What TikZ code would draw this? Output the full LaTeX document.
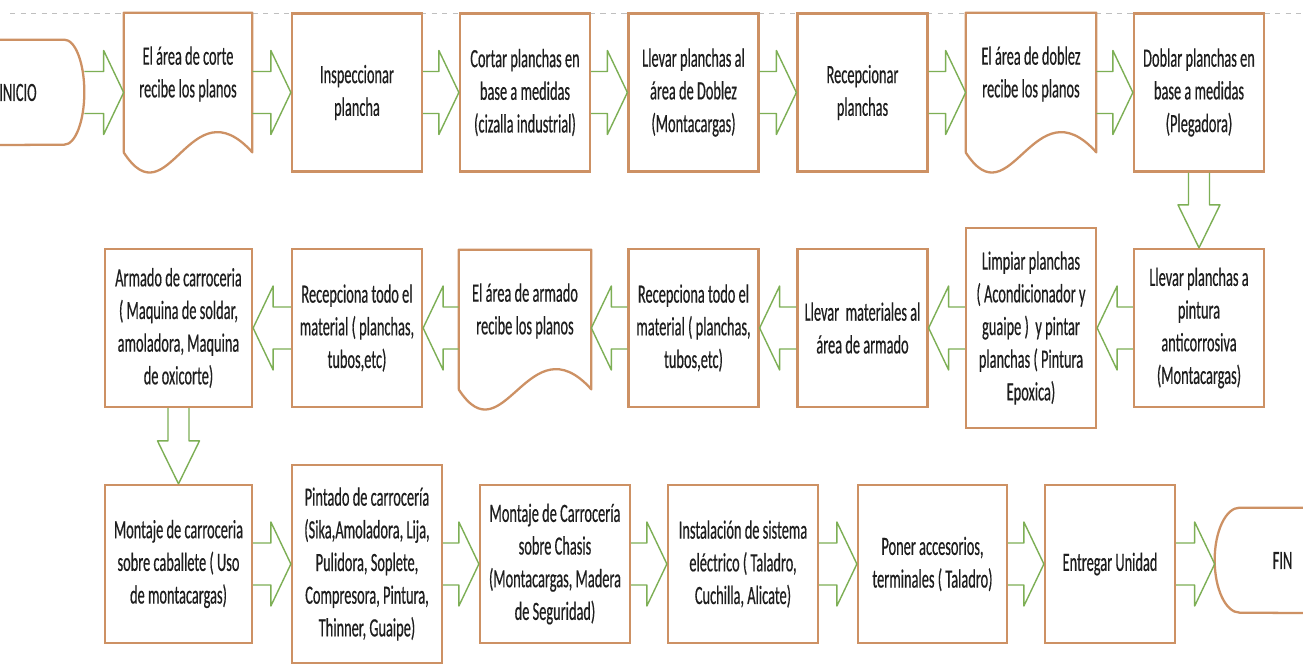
\documentclass[tikz,border=0pt]{standalone}
\usepackage{fontspec}
\setmainfont{Carlito}[FakeStretch=0.545, FakeBold=0.4]
\usepackage{tikz}
\usetikzlibrary{calc}
\definecolor{boxc}{RGB}{205,145,100}
\definecolor{arrc}{RGB}{125,175,85}
\definecolor{txtc}{RGB}{30,30,30}

\begin{document}
\begin{tikzpicture}[
  x=0.02cm, y=0.02cm,
  font=\fontsize{15}{18.6}\selectfont,
  pbox/.style={draw=boxc, line width=1.3pt, align=center, inner sep=2pt,
               minimum width=2.6cm, minimum height=3.16cm, text=txtc},
  docbox/.style={align=center, inner sep=2pt, minimum width=2.6cm,
                 minimum height=2.44cm, text=txtc},
  docline/.style={draw=boxc, line width=1.3pt, line join=round},
  termbox/.style={minimum height=2.1cm, inner sep=0pt, text=txtc},
  arrline/.style={draw=arrc, line width=0.8pt, line join=round},
  fatR/.style={arrline, to path={($(\tikztostart)+(0,21)$) -- ($(\tikztotarget)+(-20,21)$)
      -- ($(\tikztotarget)+(-20,42)$) -- (\tikztotarget) -- ($(\tikztotarget)+(-20,-42)$)
      -- ($(\tikztotarget)+(-20,-21)$) -- ($(\tikztostart)+(0,-21)$)}},
  fatL/.style={arrline, to path={($(\tikztostart)+(0,21)$) -- ($(\tikztotarget)+(20,21)$)
      -- ($(\tikztotarget)+(20,42)$) -- (\tikztotarget) -- ($(\tikztotarget)+(20,-42)$)
      -- ($(\tikztotarget)+(20,-21)$) -- ($(\tikztostart)+(0,-21)$)}},
  fatD/.style={arrline, to path={($(\tikztostart)+(-10.5,0)$) -- ($(\tikztotarget)+(-10.5,43)$)
      -- ($(\tikztotarget)+(-21,43)$) -- (\tikztotarget) -- ($(\tikztotarget)+(21,43)$)
      -- ($(\tikztotarget)+(10.5,43)$) -- ($(\tikztostart)+(10.5,0)$)}},
  topline/.style={gray!50, dashed, line width=0.5pt},
]
  \path[use as bounding box, fill=white] (0,0) rectangle (1303,666);
  \clip (0,0) rectangle (1303,666);
  \draw[topline] (10,653) -- (1303,653);
  % top row
  \node[termbox, minimum width=2.64cm] (ini) at (18,573.5) {INICIO};
  \node[docbox, minimum width=2.56cm] (d1) at (188,592) {El área de corte\\recibe los planos};
  \node[pbox] (b2) at (357,573.5) {Inspeccionar\\plancha};
  \node[pbox] (b3) at (525,573.5) {Cortar planchas en\\base a medidas\\(cizalla industrial)};
  \node[pbox] (b4) at (693.5,573.5) {Llevar planchas al\\área de Doblez\\(Montacargas)};
  \node[pbox] (b5) at (862.5,573.5) {Recepcionar\\planchas};
  \node[docbox] (d6) at (1031,592) {El área de doblez\\recibe los planos};
  \node[pbox] (b7) at (1199,573.5) {Doblar planchas en\\base a medidas\\(Plegadora)};
  % middle row (right to left)
  \node[pbox] (r1) at (1199,338) {Llevar planchas a\\pintura\\anticorrosiva\\(Montacargas)};
  \node[pbox, minimum height=4cm] (r2) at (1031,338) {Limpiar planchas\\( Acondicionador y\\guaipe )~ y pintar\\planchas ( Pintura\\Epoxica)};
  \node[pbox] (r3) at (862.5,338) {Llevar~ materiales al\\área de armado};
  \node[pbox] (r4) at (693.5,338) {Recepciona todo el\\material ( planchas,\\tubos,etc)};
  \node[docbox, minimum width=2.64cm] (r5) at (525,355) {El área de armado\\recibe los planos};
  \node[pbox] (r6) at (357,338) {Recepciona todo el\\material ( planchas,\\tubos,etc)};
  \node[pbox, minimum width=2.94cm] (r7) at (178.5,338) {Armado de carroceria\\( Maquina de soldar,\\amoladora, Maquina\\de oxicorte)};
  % bottom row
  \node[pbox, minimum width=2.94cm] (m1) at (178.5,102) {Montaje de carroceria\\sobre caballete ( Uso\\de montacargas)};
  \node[pbox, minimum width=3cm, minimum height=3.96cm] (m2) at (367,102) {Pintado de carrocería\\(Sika,Amoladora, Lija,\\Pulidora, Soplete,\\Compresora, Pintura,\\Thinner, Guaipe)};
  \node[pbox, minimum width=3cm] (m3) at (555,102) {Montaje de Carrocería\\sobre Chasis\\(Montacargas, Madera\\de Seguridad)};
  \node[pbox, minimum width=3cm] (m4) at (743,102) {Instalación de sistema\\eléctrico ( Taladro,\\Cuchilla, Alicate)};
  \node[pbox, minimum width=2.98cm] (m5) at (932.5,102) {Poner accesorios,\\terminales ( Taladro)};
  \node[pbox] (m6) at (1110,102) {Entregar Unidad};
  \node[termbox, minimum width=2.7cm] (fin) at (1282.5,105.5) {FIN};
  % terminals and documents
  \draw[docline] (ini.north west) -- ($(ini.north east)+(-20,0)$)
    arc[start angle=90, end angle=-90, x radius=20, y radius=52.5] -- (ini.south west);
  \draw[docline] (fin.north east) -- ($(fin.north west)+(25,0)$)
    arc[start angle=90, end angle=270, x radius=25, y radius=52.5] -- (fin.south east);
  \foreach \d in {d1,d6,r5}
    \draw[docline] ($(\d.south west)+(0,-17)$) -- (\d.north west) -- (\d.north east)
      -- ($(\d.south east)+(0,-17)$)
      .. controls +(-63,70) and +(45,-70) .. ($(\d.south west)+(0,-17)$);
  % block arrows
  \draw[fatR] (ini.east) to (d1.west |- ini.east);
  \draw[fatR] (d1.east |- b2.west) to (b2.west);
  \draw[fatR] (b2.east) to (b3.west);
  \draw[fatR] (b3.east) to (b4.west);
  \draw[fatR] (b4.east) to (b5.west);
  \draw[fatR] (b5.east) to (d6.west |- b5.east);
  \draw[fatR] (d6.east |- b7.west) to (b7.west);
  \draw[fatD] (b7.south) to (r1.north);
  \draw[fatL] (r1.west) to (r2.east);
  \draw[fatL] (r2.west) to (r3.east);
  \draw[fatL] (r3.west) to (r4.east);
  \draw[fatL] (r4.west) to (r5.east |- r4.west);
  \draw[fatL] (r5.west |- r6.east) to (r6.east);
  \draw[fatL] (r6.west) to (r7.east);
  \draw[fatD] (r7.south) to (m1.north);
  \draw[fatR] (m1.east) to (m2.west);
  \draw[fatR] (m2.east) to (m3.west);
  \draw[fatR] (m3.east) to (m4.west);
  \draw[fatR] (m4.east) to (m5.west);
  \draw[fatR] (m5.east) to (m6.west);
  \draw[fatR] (m6.east) to (fin.west |- m6.east);
\end{tikzpicture}
\end{document}
